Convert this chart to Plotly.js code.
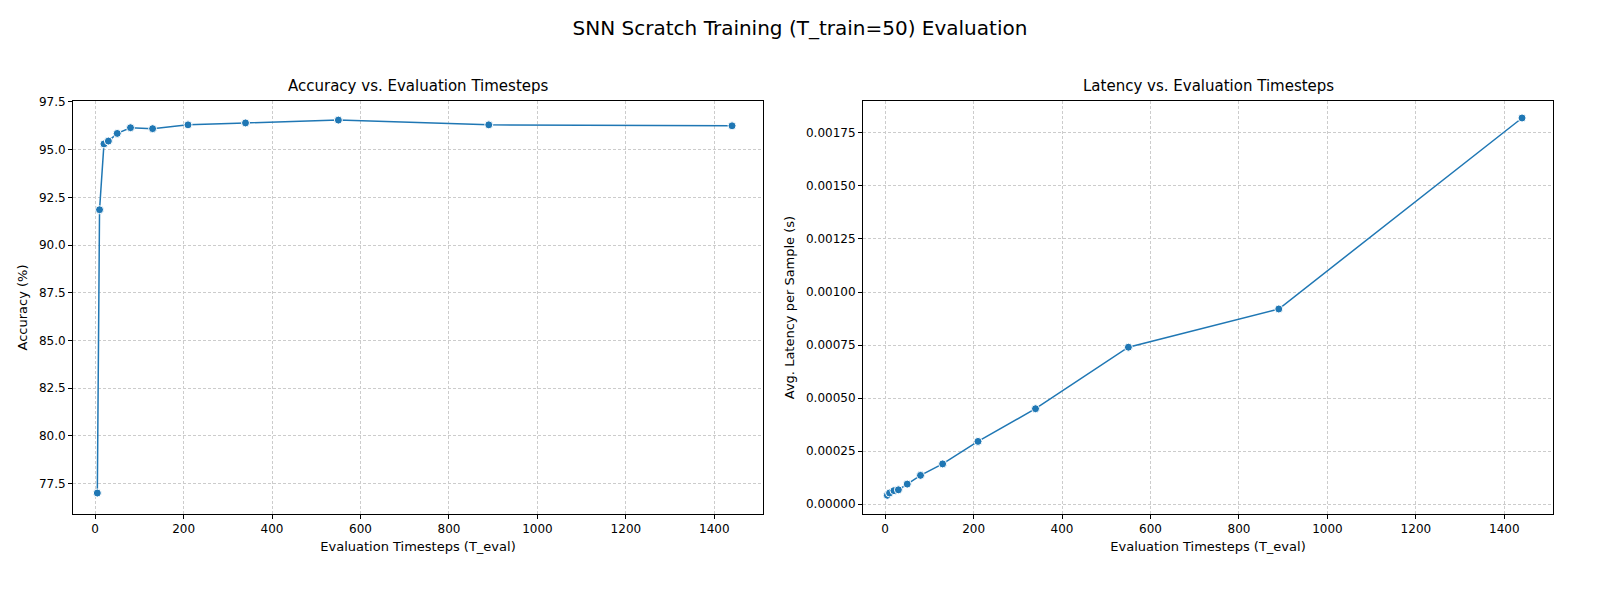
<!DOCTYPE html>
<html>
<head>
<script src="https://cdn.plot.ly/plotly-3.0.1.min.js"></script>
</head>
<body style="margin:0;overflow:hidden">
<div id="plot" style="width:1600px;height:600px"></div>
<script>
// Evaluation timesteps and measured values
const tEval = [5, 10, 20, 30, 50, 80, 130, 210, 340, 550, 890, 1440];
const accuracy = [77.0, 91.85, 95.3, 95.45, 95.85, 96.15, 96.1, 96.3, 96.4, 96.55, 96.3, 96.25];
const latency = [0.000042, 0.000053, 0.000064, 0.000068, 0.000095, 0.000136, 0.00019, 0.000296, 0.00045, 0.00074, 0.00092, 0.00182];

const blue = '#1f77b4';
const font = {family: 'DejaVu Sans', size: 12, color: '#000'};

function trace(y, xa, ya) {
  return {
    x: tEval, y: y, xaxis: xa, yaxis: ya,
    mode: 'lines+markers', showlegend: false,
    line: {color: blue, width: 1.5},
    marker: {color: blue, size: 8, line: {color: '#fff', width: 1}}
  };
}

const axisBase = {
  showline: true, mirror: true, linecolor: '#000', linewidth: 1,
  ticks: 'outside', ticklen: 4, tickcolor: '#000',
  showgrid: true, gridcolor: '#cccccc', griddash: '3px,2px', gridwidth: 0.8,
  zeroline: false, tickfont: {size: 12}
};

const layout = {
  width: 1600, height: 600, autosize: false,
  font: font,
  paper_bgcolor: '#fff', plot_bgcolor: '#fff',
  margin: {l: 0, r: 0, t: 0, b: 0},
  title: {text: 'SNN Scratch Training (T_train=50) Evaluation', x: 0.5, y: 0.965, font: {size: 20}},
  xaxis: Object.assign({}, axisBase, {domain: [73/1600, 763/1600], range: [-50, 1510], dtick: 200,
    title: {text: 'Evaluation Timesteps (T_eval)', standoff: 6, font: {size: 13}}}),
  yaxis: Object.assign({}, axisBase, {domain: [86/600, 499/600], range: [75.9, 97.55], dtick: 2.5, tickformat: '.1f',
    title: {text: 'Accuracy (%)', standoff: 8, font: {size: 13}}}),
  xaxis2: Object.assign({}, axisBase, {anchor: 'y2', domain: [863/1600, 1553/1600], range: [-50, 1510], dtick: 200,
    title: {text: 'Evaluation Timesteps (T_eval)', standoff: 6, font: {size: 13}}}),
  yaxis2: Object.assign({}, axisBase, {anchor: 'x2', domain: [86/600, 499/600], range: [-0.000046, 0.0019], dtick: 0.00025, tickformat: '.5f',
    title: {text: 'Avg. Latency per Sample (s)', standoff: 8, font: {size: 13}}}),
  annotations: [
    {text: 'Accuracy vs. Evaluation Timesteps', xref: 'paper', yref: 'paper', x: 418/1600, y: 503/600, xanchor: 'center', yanchor: 'bottom', showarrow: false, font: {size: 15}},
    {text: 'Latency vs. Evaluation Timesteps', xref: 'paper', yref: 'paper', x: 1208/1600, y: 503/600, xanchor: 'center', yanchor: 'bottom', showarrow: false, font: {size: 15}}
  ]
};

Plotly.newPlot('plot', [trace(accuracy, 'x', 'y'), trace(latency, 'x2', 'y2')], layout, {displayModeBar: false});
</script>
</body>
</html>
